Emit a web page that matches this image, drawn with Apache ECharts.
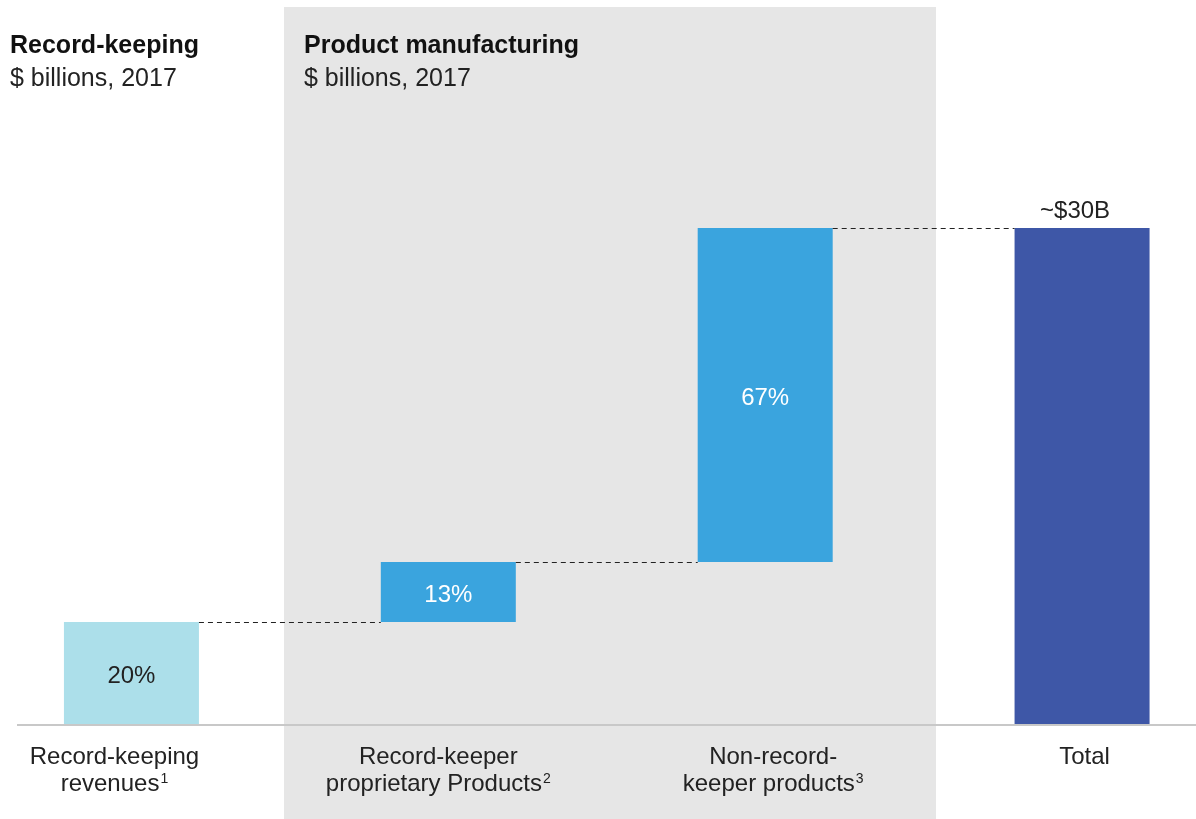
<!DOCTYPE html>
<html>
<head>
<meta charset="utf-8">
<script src="https://cdn.jsdelivr.net/npm/echarts@6/dist/echarts.min.js"></script>
<style>
  html, body { margin: 0; padding: 0; background: #fff; }
  #chart { width: 1196px; height: 819px; }
</style>
</head>
<body>
<div id="chart"></div>
<script>
// waterfall: record-keeping vs product manufacturing, share of ~$30B (2017)
const categories = [
  "Record-keeping\nrevenues{sup|1}",
  "Record-keeper\nproprietary Products{sup|2}",
  "Non-record-\nkeeper products{sup|3}",
  "Total",
];
// shares of total in %
const shares = [20.7, 12.1, 67.2];
const totalValue = 100;
const barLabels = ["20%", "13%", "67%", "~$30B"];
const barColors = ["#acdfea", "#3aa4de", "#3aa4de", "#3e57a7"];
const labelColors = ["#222222", "#ffffff", "#ffffff", "#222222"];
// the category labels are not exactly centred under the bars in the original
const labelPads = [[0, 34, 0, 0], [0, 20, 0, 0], [0, 0, 0, 16], [0, 0, 0, 5]];

const FONT = "'Liberation Sans', Arial, Helvetica, sans-serif";

// invisible base of each floating bar + the visible part
const bases = [];
let run = 0;
shares.forEach((v) => { bases.push(run); run += v; });
bases.push(0);
const heights = shares.concat([totalValue]);
// connector levels: top of each bar, drawn to the next one
const connectors = heights.slice(0, 3).map((v, i) => [i, bases[i] + v]);

const chart = echarts.init(document.getElementById("chart"), null, { renderer: "canvas" });

chart.setOption({
  animation: false,
  textStyle: { fontFamily: FONT },
  grid: { left: -27, right: -44.5, top: 228, bottom: 94, outerBoundsMode: "none", containLabel: false },
  xAxis: {
    type: "category",
    data: categories.map((c, i) => ({ value: c, textStyle: { padding: labelPads[i] } })),
    axisLine: { show: false },
    axisTick: { show: false },
    axisLabel: {
      interval: 0,
      margin: 19,
      color: "#222",
      fontSize: 24,
      lineHeight: 27,
      fontFamily: FONT,
      rich: {
        sup: { fontSize: 14, lineHeight: 27, padding: [0, 0, 10, 1], color: "#222", fontFamily: FONT },
      },
    },
  },
  yAxis: {
    type: "value",
    min: 0,
    max: totalValue,
    show: false,
  },
  graphic: [
    { type: "rect", z: -10, shape: { x: 284, y: 7, width: 652, height: 812 }, style: { fill: "#e6e6e6" } },
    { type: "line", z: 100, shape: { x1: 17, y1: 725, x2: 1196, y2: 725 }, style: { stroke: "#c8c8c8", lineWidth: 2 } },
    { type: "text", x: 10, y: 46, style: { text: "Record-keeping", font: "bold 25px " + FONT, fill: "#111", verticalAlign: "middle" } },
    { type: "text", x: 10, y: 79, style: { text: "$ billions, 2017", font: "25px " + FONT, fill: "#222", verticalAlign: "middle" } },
    { type: "text", x: 304, y: 46, style: { text: "Product manufacturing", font: "bold 25px " + FONT, fill: "#111", verticalAlign: "middle" } },
    { type: "text", x: 304, y: 79, style: { text: "$ billions, 2017", font: "25px " + FONT, fill: "#222", verticalAlign: "middle" } },
  ],
  series: [
    {
      name: "base",
      type: "bar",
      stack: "wf",
      barWidth: 135,
      silent: true,
      itemStyle: { color: "transparent" },
      data: bases,
    },
    {
      name: "value",
      type: "bar",
      stack: "wf",
      barWidth: 135,
      data: heights.map((v, i) => ({
        value: v,
        itemStyle: { color: barColors[i] },
        label: {
          show: true,
          position: i === 3 ? "top" : "inside",
          distance: 5,
          offset: i === 3 ? [-7, 0] : [0, 3],
          formatter: barLabels[i],
          color: labelColors[i],
          fontSize: 24,
          fontFamily: FONT,
        },
      })),
    },
    {
      name: "connectors",
      type: "custom",
      silent: true,
      z: 5,
      data: connectors,
      renderItem: (params, api) => {
        const p = api.coord([api.value(0), api.value(1)]);
        const band = api.size([1, 0])[0];
        const half = 135 / 2;
        const y = Math.round(p[1]) + 0.5;
        return {
          type: "line",
          shape: { x1: p[0] + half, y1: y, x2: p[0] + band - half, y2: y },
          style: { stroke: "#222", lineWidth: 1, lineDash: [5, 4] },
        };
      },
    },
  ],
});
</script>
</body>
</html>
